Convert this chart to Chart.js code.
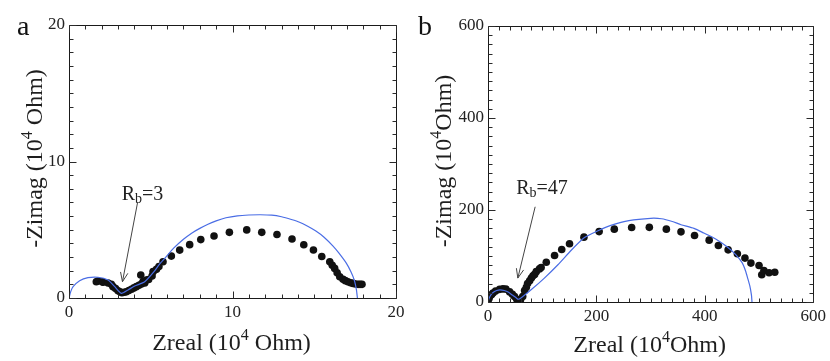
<!DOCTYPE html>
<html><head><meta charset="utf-8">
<script src="https://cdn.jsdelivr.net/npm/chart.js@4.4.1/dist/chart.umd.min.js"></script>
<style>
html,body{margin:0;padding:0;background:#fff;}
#wrap{position:relative;width:830px;height:361px;overflow:hidden;}
canvas{position:absolute;top:0;}
</style></head><body>
<div id="wrap">
<canvas id="ca" width="415" height="361" style="left:0;width:415px;height:361px"></canvas>
<canvas id="cb" width="415" height="361" style="left:415px;width:415px;height:361px"></canvas>
</div>
<script>
// ---------- Panel a data (10^4 Ohm) ----------
const aDataX = [1.67,1.77,2.04,2.08,2.39,2.59,2.69,2.85,3.0,3.12,3.24,3.38,3.51,3.66,3.82,3.97,4.12,4.28,4.43,4.53,4.63,4.73,4.39,4.87,5.08,5.14,5.35,5.5,5.75,6.26,6.77,7.38,8.06,8.87,9.81,10.87,11.79,12.72,13.64,14.36,14.95,15.46,15.95,16.1,16.25,16.4,16.56,16.76,16.9,17.06,17.22,17.37,17.52,17.68,17.8,17.92];
const aDataY = [1.19,1.25,1.19,1.15,1.1,1.0,0.83,0.7,0.53,0.45,0.39,0.42,0.46,0.55,0.64,0.74,0.83,0.93,1.03,1.2,1.1,1.32,1.68,1.35,1.61,1.93,2.1,2.3,2.66,3.07,3.51,3.91,4.28,4.54,4.81,4.99,4.81,4.65,4.32,3.9,3.52,3.04,2.66,2.4,2.17,1.85,1.56,1.37,1.27,1.19,1.12,1.07,1.03,1.0,1.0,1.0];
const aFitX = [0,0.1,0.25,0.65,1.16,1.77,2.39,2.8,3.2,3.61,4.02,4.63,5.2,5.55,6.0,6.4,7.0,7.5,8.0,8.5,9.0,9.6,10.3,11.0,11.7,12.4,13.0,13.6,14.1,14.6,15.1,15.6,16.15,16.5,16.96,17.25,17.45,17.58,17.64];
const aFitY = [0,0.45,0.83,1.27,1.49,1.52,1.32,0.83,0.34,0.59,0.88,1.19,1.93,2.5,3.1,3.65,4.3,4.75,5.1,5.4,5.65,5.88,6.02,6.08,6.1,6.07,5.95,5.75,5.55,5.25,4.9,4.45,3.8,3.3,2.55,1.9,1.3,0.6,0];
const aTicks = [0,10,20];

// ---------- Panel b data (10^4 Ohm) ----------
const bDataX = [0,2,4,6.3,9.2,14,21.5,27.6,33,40,45,49,53,57,60,64,67.5,70.7,73,76.8,80,83,86,89,95,98,107.5,122.8,136,150.4,177,205,233,265,297.6,329,356,381,408,425,443,460,474,485,500,505,509,518.5,529];
const bDataY = [1,8,14,15.8,19.5,24,27.5,28.5,28,22,17,12,6,2,5,12,25,32,40,46,52,57,60,66,72,75,86.5,101,114,126.5,141,153,158.4,162,162.3,158.4,152.5,144.5,134.5,122.8,113.4,104.8,95.4,84.6,79.4,59.2,68.5,63.5,64.8];
const bFitX = [0,2,5,10,16,22,30,38,45,52,56,62,80,104,129,154,178,203,228,260,300,320,340,356,380,398,420,441,457,469,475,479,483,486,487];
const bFitY = [0,8,15,21,25,26.5,25,21,15,9,6,10,27,52,81,113,140,155,167,177,182,181,175,168,160,150,137,120,103,85,68,52,35,15,0];
const bTicks = [0,200,400,600];

const FONT = '"Liberation Serif","Times New Roman",serif';

function pts(xs, ys){ return xs.map((x,i)=>({x:x, y:ys[i]})); }

function drawRich(ctx, parts, cx, cy, rot){
  let w = 0;
  parts.forEach(p=>{ ctx.font = p.size+'px '+FONT; p.w = ctx.measureText(p.t).width; w += p.w; });
  ctx.save();
  ctx.translate(cx, cy);
  if (rot) ctx.rotate(rot);
  ctx.textBaseline = 'alphabetic';
  ctx.textAlign = 'left';
  let x = -w/2;
  parts.forEach(p=>{ ctx.font = p.size+'px '+FONT; ctx.fillText(p.t, x, p.dy); x += p.w; });
  ctx.restore();
}

function makeChart(id, cfg){
  const plugin = {
    id: 'deco_'+cfg.letter,
    afterDraw(chart){
      const ctx = chart.ctx, ca = chart.chartArea, xs = chart.scales.x, ys = chart.scales.y;
      ctx.save();
      ctx.lineWidth = 1;
      ctx.strokeStyle = '#1a1a1a';
      ctx.beginPath();
      ctx.rect(Math.round(ca.left)+0.5, Math.round(ca.top)+0.5, Math.round(ca.right-ca.left), Math.round(ca.bottom-ca.top));
      ctx.stroke();
      const L0 = Math.round(ca.left)+0.5, R0 = Math.round(ca.right)+0.5, T0 = Math.round(ca.top)+0.5, B0 = Math.round(ca.bottom)+0.5;
      const nx = Math.round((cfg.max - cfg.min)/cfg.minor);
      ctx.beginPath();
      for (let i=0;i<=nx;i++){
        const v = cfg.min + i*cfg.minor;
        const major = (i*cfg.minor) % cfg.major === 0;
        const L = major ? 7 : 4;
        const px = Math.round(xs.getPixelForValue(v))+0.5;
        ctx.moveTo(px, B0); ctx.lineTo(px, B0-L);
        ctx.moveTo(px, T0); ctx.lineTo(px, T0+L);
        const py = Math.round(ys.getPixelForValue(v))+0.5;
        ctx.moveTo(L0, py); ctx.lineTo(L0+L, py);
        ctx.moveTo(R0, py); ctx.lineTo(R0-L, py);
      }
      ctx.strokeStyle = '#2a2a2a';
      ctx.lineWidth = 1;
      ctx.stroke();
      ctx.fillStyle = '#111';
      ctx.font = '28px '+FONT; ctx.textBaseline='alphabetic'; ctx.textAlign='left';
      ctx.fillText(cfg.letter, cfg.letterX, 35);
      ctx.fillStyle = '#1e1e1e';
      const cxm = (ca.left+ca.right)/2, cym = (ca.top+ca.bottom)/2;
      drawRich(ctx, [{t:'Zreal (10',size:24,dy:0},{t:'4',size:16,dy:-10},{t:cfg.unitTail,size:24,dy:0}], cxm-1, cfg.xTitleY, 0);
      drawRich(ctx, [{t:'-Zimag (10',size:24,dy:0},{t:'4',size:16,dy:-10},{t:cfg.unitTail,size:24,dy:0}], cfg.yTitleX, cym-3, -Math.PI/2);
      const an = cfg.ann;
      const tx = xs.getPixelForValue(an.tx), ty = ys.getPixelForValue(an.ty);
      ctx.fillStyle = '#222';
      ctx.textBaseline = 'alphabetic'; ctx.textAlign = 'left';
      ctx.font = '20px '+FONT; ctx.fillText('R', tx, ty+7);
      let wR = ctx.measureText('R').width;
      ctx.font = '14px '+FONT; ctx.fillText('b', tx+wR, ty+10);
      let wb = ctx.measureText('b').width;
      ctx.font = '20px '+FONT; ctx.fillText('='+an.label, tx+wR+wb, ty+7);
      const x1 = xs.getPixelForValue(an.x1), y1 = ys.getPixelForValue(an.y1);
      const x2 = xs.getPixelForValue(an.x2), y2 = ys.getPixelForValue(an.y2);
      ctx.strokeStyle = '#444'; ctx.lineWidth = 1;
      ctx.beginPath(); ctx.moveTo(x1,y1); ctx.lineTo(x2,y2);
      const ang = Math.atan2(y2-y1, x2-x1), hl = 10, ha = 0.38;
      ctx.moveTo(x2,y2); ctx.lineTo(x2 - hl*Math.cos(ang-ha), y2 - hl*Math.sin(ang-ha));
      ctx.moveTo(x2,y2); ctx.lineTo(x2 - hl*Math.cos(ang+ha), y2 - hl*Math.sin(ang+ha));
      ctx.stroke();
      ctx.restore();
    }
  };
  return new Chart(document.getElementById(id), {
    type: 'scatter',
    data: { datasets: [
      { label:'fit', data: pts(cfg.fitX, cfg.fitY), showLine:true, borderColor:'#4a6de5', borderWidth:1.2, pointRadius:0, tension:0.2, fill:false, order:0 },
      { label:'data', data: pts(cfg.dataX, cfg.dataY), backgroundColor:'#111', borderWidth:0, pointRadius:3.8, showLine:false, order:1 }
    ]},
    options: {
      responsive:false, animation:false, maintainAspectRatio:false,
      layout:{ padding:{ top:cfg.padTop, right:cfg.padRight, left:0, bottom:0 } },
      plugins:{ legend:{display:false}, tooltip:{enabled:false} },
      scales:{
        x:{ type:'linear', min:cfg.min, max:cfg.max,
            afterBuildTicks: s=>{ s.ticks = cfg.ticks.map(v=>({value:v})); },
            afterFit: s=>{ s.height = cfg.xAxisH; },
            grid:{ display:false, drawTicks:false }, border:{display:false},
            ticks:{ font:{family:FONT,size:17}, color:'#222', padding:4, maxRotation:0, autoSkip:false } },
        y:{ type:'linear', min:cfg.min, max:cfg.max,
            afterBuildTicks: s=>{ s.ticks = cfg.ticks.map(v=>({value:v})); },
            afterFit: s=>{ s.width = cfg.yAxisW; },
            grid:{ display:false, drawTicks:false }, border:{display:false},
            ticks:{ font:{family:FONT,size:17}, color:'#222', padding:4, autoSkip:false } }
      }
    },
    plugins:[plugin]
  });
}

makeChart('ca', {
  letter:'a', letterX:17, dataX:aDataX, dataY:aDataY, fitX:aFitX, fitY:aFitY,
  ticks:aTicks, min:0, max:20, minor:1, major:10, unitTail:' Ohm)',
  padTop:25, padRight:19, xAxisH:63, yAxisW:69,
  xTitleY:350, yTitleX:42,
  ann:{ label:'3', tx:3.22, ty:7.69, x1:4.2, y1:7.03, x2:3.27, y2:1.19 }
});
makeChart('cb', {
  letter:'b', letterX:3, dataX:bDataX, dataY:bDataY, fitX:bFitX, fitY:bFitY,
  ticks:bTicks, min:0, max:600, minor:20, major:200, unitTail:'Ohm)',
  padTop:26, padRight:16, xAxisH:59, yAxisW:73,
  xTitleY:352, yTitleX:36,
  ann:{ label:'47', tx:52, ty:251, x1:87, y1:207, x2:55, y2:52 }
});
</script>
</body></html>
